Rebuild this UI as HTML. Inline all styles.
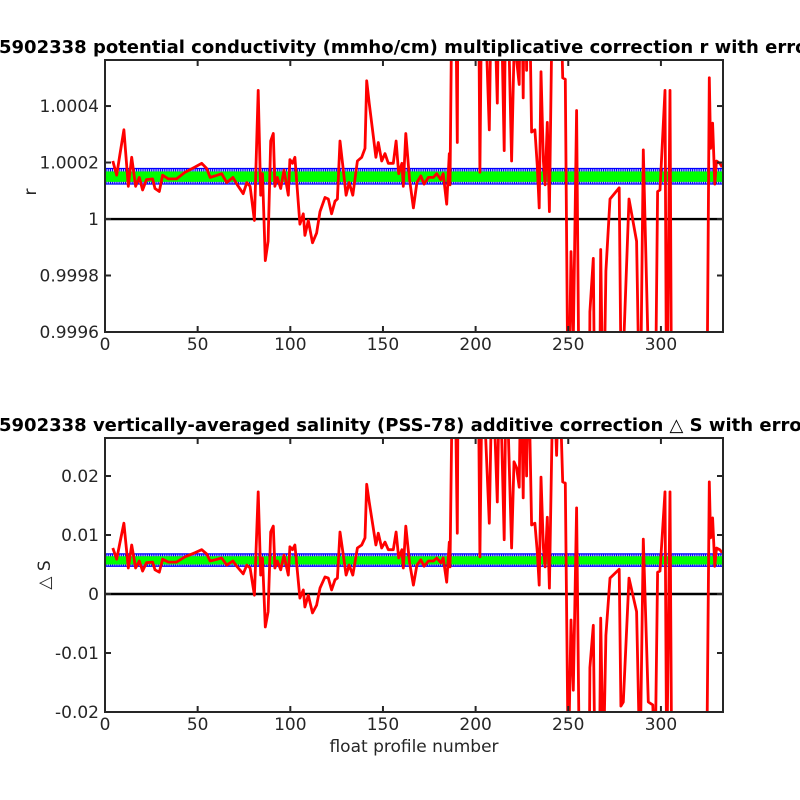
<!DOCTYPE html>
<html><head><meta charset="utf-8"><style>
html,body{margin:0;padding:0;background:#fff;width:800px;height:800px;overflow:hidden}
svg{display:block;font-family:"DejaVu Sans","Liberation Sans",sans-serif}
</style></head><body>
<svg id="chart" width="800" height="800" viewBox="0 0 800 800" xmlns="http://www.w3.org/2000/svg">
<rect width="800" height="800" fill="#fff"/>
<text x="-1" y="53" font-size="18" font-weight="bold" fill="#000">5902338 potential conductivity (mmho/cm) multiplicative correction r with error</text>
<text x="-1" y="431" font-size="18" font-weight="bold" fill="#000">5902338 vertically-averaged salinity (PSS-78) additive correction △ S with error</text>
<g id="top"></g>
<g id="bot"></g>
<text transform="translate(36,192) rotate(-90)" text-anchor="middle" font-size="17" fill="#262626">r</text>
<text transform="translate(50,575) rotate(-90)" text-anchor="middle" font-size="17" fill="#262626">△ S</text>
<text x="414" y="752" text-anchor="middle" font-size="17" fill="#262626">float profile number</text>
</svg>
<script>
const profiles=[4.2,6.3,8,10.2,12.6,14.4,16.5,18.5,20.3,22.4,25.7,27,29.3,31.1,34.2,38.6,43.2,48.6,52.2,54.9,56.7,59.4,63,65.7,69,71.4,74.6,76.5,78.3,80.6,82.7,84,85,86.5,88,89.4,90.8,91.7,93,94.8,96.6,98.9,99.8,101.2,102.5,105.2,107,107.9,109.7,112,114.2,116,118.7,120.5,122.3,124.1,125.4,126.8,128.6,130.1,131.8,133.7,136.2,138.5,140.3,141.2,142.6,144.5,146.2,147.5,149.3,151.1,152.9,155.6,157.1,158.5,160.2,161,162.3,164.3,166.4,168.3,170.4,172.2,174.5,177.2,179,181.2,182.5,184.4,185.8,186.2,187.6,188.8,190.1,190.6,201.4,202.3,203.6,207.4,209,211.7,213,215.4,216.5,219.4,220.7,222.1,223.5,224.5,225.7,226.5,227.5,228.5,230.2,232,233.3,234.3,235.3,236.6,237.5,238.7,239.8,241.9,243.7,245,247,248.4,250,251.5,252.7,254.5,256,261.3,261.7,263.5,264.4,266.8,267.5,268.9,270.3,272.5,277.5,278.4,279.7,282.8,286.9,288.7,290.5,293.2,295.6,296.8,298.2,299.5,302.2,303.1,304.9,305.8,324.7,326.1,326.8,327.9,329.1,330,331.8,333];
const dS=[0.0078,0.0059,0.0086,0.012,0.0044,0.0083,0.0044,0.0056,0.0039,0.0053,0.0054,0.0041,0.0037,0.0059,0.0054,0.0054,0.0063,0.007,0.0075,0.0068,0.0056,0.0058,0.0061,0.0049,0.0056,0.0046,0.0034,0.0049,0.0044,-0.0002,0.0173,0.0032,0.0061,-0.0056,-0.003,0.0105,0.0115,0.0044,0.0056,0.0041,0.0066,0.0032,0.008,0.0075,0.0083,-0.0007,0.0007,-0.0022,-0.0002,-0.0032,-0.0019,0.001,0.0029,0.0027,0.0007,0.0024,0.0027,0.0105,0.0066,0.0032,0.0049,0.0032,0.0078,0.0083,0.0095,0.0186,0.0156,0.0117,0.0083,0.0103,0.0078,0.0088,0.0075,0.0075,0.0105,0.0061,0.0075,0.0044,0.0115,0.0054,0.0015,0.0049,0.0058,0.0047,0.0056,0.0056,0.0061,0.0053,0.0061,0.002,0.0088,0.0046,0.04,0.04,0.0103,0.04,0.04,0.0063,0.04,0.012,0.04,0.0156,0.04,0.0092,0.04,0.0078,0.0224,0.0214,0.0181,0.04,0.0163,0.04,0.02,0.04,0.0117,0.012,0.0071,0.0015,0.0198,0.0078,0.0046,0.013,0.001,0.04,0.0235,0.04,0.019,0.0188,-0.03,-0.0044,-0.0163,0.0146,-0.03,-0.03,-0.0125,-0.0053,-0.03,-0.03,-0.0041,-0.03,-0.007,0.0027,0.0042,-0.019,-0.0183,0.0027,-0.003,-0.03,0.0093,-0.0183,-0.0188,-0.03,0.0037,0.0039,0.0173,-0.03,0.0173,-0.03,-0.03,0.019,0.0095,0.0129,0.0047,0.0078,0.0075,0.007];
const errUpper=0.0068, errLower=0.0047, fitUpper=0.0064, fitLower=0.0050;
const rFactor=38; // ΔS ≈ rFactor * (r - 1)
const xTicks=[0,50,100,150,200,250,300];
const topYTicks=[0.9996,0.9998,1,1.0002,1.0004];
const topYLabels=["0.9996","0.9998","1","1.0002","1.0004"];
const botYTicks=[-0.02,-0.01,0,0.01,0.02];
const botYLabels=["-0.02","-0.01","0","0.01","0.02"];
const NS="http://www.w3.org/2000/svg";
const X0=105,X1=723,XMAX=333.5;
const xs=p=>X0+p/XMAX*(X1-X0);
function mk(parent,tag,attrs){const e=document.createElementNS(NS,tag);for(const k in attrs)e.setAttribute(k,attrs[k]);parent.appendChild(e);return e;}
function panel(g,top,bot,ymin,ymax,conv,yt,yl,pre){
  const ys=v=>bot-(v-ymin)/(ymax-ymin)*(bot-top);
  const cid=pre+'clip';
  const defs=mk(g,'defs',{});const cp=mk(defs,'clipPath',{id:cid});mk(cp,'rect',{x:X0,y:top,width:X1-X0,height:bot-top});
  const plot=mk(g,'g',{'clip-path':'url(#'+cid+')'});
  const yu=ys(conv(errUpper)), yl2=ys(conv(errLower));
  const band=mk(plot,'rect',{x:X0,y:yu,width:X1-X0,height:yl2-yu,fill:'#fff'});
  
  
  for(let p=0;p<=XMAX;p+=1){
    const t=mk(plot,'line',{x1:xs(p),x2:xs(p),y1:yu,y2:yl2,stroke:'#0000ff','stroke-width':1.1});
    
    
  }
  const gf=mk(plot,'rect',{x:X0,y:ys(conv(fitUpper)),width:X1-X0,height:ys(conv(fitLower))-ys(conv(fitUpper)),fill:'#00ff00'});
  
  
  mk(plot,'line',{x1:X0,x2:X1,y1:yu,y2:yu,stroke:'#0000ff','stroke-width':1.2});
  mk(plot,'line',{x1:X0,x2:X1,y1:yl2,y2:yl2,stroke:'#0000ff','stroke-width':1.2});
  const zl=mk(plot,'line',{x1:X0,x2:X1,y1:ys(conv(0)),y2:ys(conv(0)),stroke:'#000','stroke-width':2.4});
  
  
  const pts=profiles.map((p,i)=>xs(p).toFixed(1)+','+ys(conv(dS[i])).toFixed(1)).join(' ');
  const ln=mk(plot,'polyline',{points:pts,fill:'none',stroke:'#ff0000','stroke-width':2.8,'stroke-linejoin':'round'});
  
  
  const ax=mk(g,'rect',{x:X0,y:top,width:X1-X0,height:bot-top,fill:'none',stroke:'#262626','stroke-width':2});
  
  
  xTicks.forEach(v=>{
    mk(g,'line',{x1:xs(v),x2:xs(v),y1:bot,y2:bot-6,stroke:'#262626','stroke-width':2});
    mk(g,'line',{x1:xs(v),x2:xs(v),y1:top,y2:top+6,stroke:'#262626','stroke-width':2});
    const t=mk(g,'text',{x:xs(v),y:bot+18,'text-anchor':'middle','font-size':17,fill:'#262626'});
    t.textContent=v;
    
    
  });
  yt.forEach((v,i)=>{
    const y=ys(v);
    mk(g,'line',{x1:X0,x2:X0+6,y1:y,y2:y,stroke:'#262626','stroke-width':2});
    mk(g,'line',{x1:X1,x2:X1-6,y1:y,y2:y,stroke:'#262626','stroke-width':2});
    const t=mk(g,'text',{x:X0-6,y:y+6,'text-anchor':'end','font-size':17,fill:'#262626'});
    t.textContent=yl[i];
    
    
  });
}
panel(document.getElementById('top'),60,332,0.9996,1.000563,v=>1+v/rFactor,topYTicks,topYLabels,'top-');
panel(document.getElementById('bot'),438,712,-0.02,0.02644,v=>v,botYTicks,botYLabels,'bottom-');
</script>
</body></html>
